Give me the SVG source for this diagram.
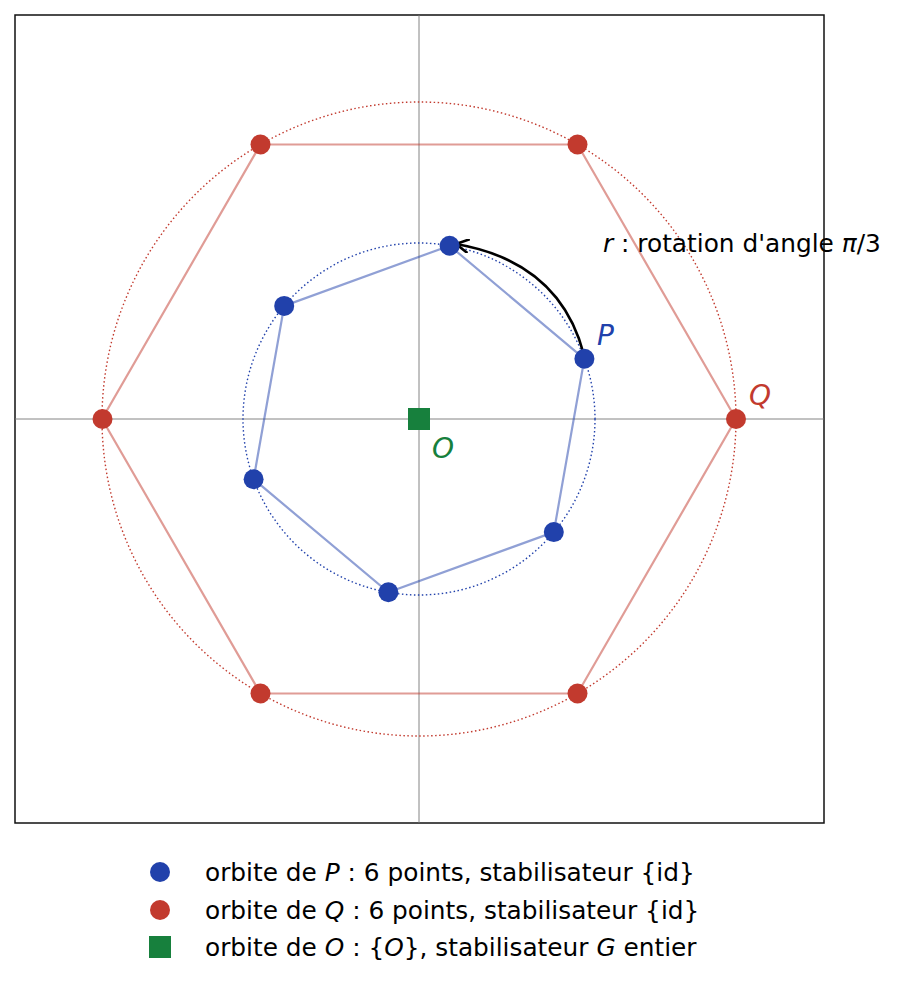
<svg xmlns="http://www.w3.org/2000/svg" width="898" height="987" viewBox="0 0 898 987">
<style>
text{font-family:"DejaVu Sans",sans-serif;font-size:24.8px;fill:#000}
.lab{font-size:28px;font-style:italic}
.bp{fill:#2141ab}.rp{fill:#c23a2e}
</style>
<defs><marker id="ah" viewBox="0 0 12 12" refX="11" refY="6" markerWidth="14" markerHeight="14" orient="auto" markerUnits="userSpaceOnUse"><path d="M0,0 L11,6 L0,12" fill="none" stroke="#000" stroke-width="2.2"/></marker></defs>
<rect x="0" y="0" width="898" height="987" fill="#fff"/>
<g id="axes">
<rect x="15" y="15" width="809" height="808" fill="none" stroke="#111" stroke-width="1.5"/>
<line x1="419" y1="15" x2="419" y2="823" stroke="#777" stroke-width="0.9"/>
<line x1="15" y1="419" x2="824" y2="419" stroke="#777" stroke-width="0.9"/>
<circle cx="419" cy="419" r="317" fill="none" stroke="#c23a2e" stroke-width="1.4" stroke-dasharray="1.5,2.5"/>
<circle cx="419" cy="419" r="176" fill="none" stroke="#2141ab" stroke-width="1.4" stroke-dasharray="1.5,2.5"/>
</g>
<g id="connectors">
<polygon points="736,419 577.5,144.5 260.5,144.5 102,419 260.5,693.5 577.5,693.5" fill="none" stroke="#c23a2e" stroke-opacity="0.5" stroke-width="2.2"/>
<polygon points="584.4,358.8 449.6,245.7 284.2,305.9 253.6,479.2 388.4,592.3 553.8,532.1" fill="none" stroke="#2141ab" stroke-opacity="0.5" stroke-width="2.2"/>
<path d="M584,355 Q560,262 456,244" fill="none" stroke="#000" stroke-width="2.6" marker-end="url(#ah)"/>
</g>
<g id="Q-orbit" class="rp">
<circle cx="736" cy="419" r="10"/><circle cx="577.5" cy="144.5" r="10"/><circle cx="260.5" cy="144.5" r="10"/>
<circle cx="102.5" cy="419" r="10"/><circle cx="260.5" cy="693.5" r="10"/><circle cx="577.5" cy="693.5" r="10"/>
</g>
<g id="P-orbit" class="bp">
<circle cx="584.4" cy="358.8" r="10"/><circle cx="449.6" cy="245.7" r="10"/><circle cx="284.2" cy="305.9" r="10"/>
<circle cx="253.6" cy="479.2" r="10"/><circle cx="388.4" cy="592.3" r="10"/><circle cx="553.8" cy="532.1" r="10"/>
</g>
<g id="O"><rect x="408" y="408" width="22" height="22" fill="#17803d"/></g>
<g id="labels">
<text class="lab" x="597" y="345" style="fill:#2141ab">P</text>
<text class="lab" x="749" y="405" style="fill:#c23a2e">Q</text>
<text class="lab" x="432" y="458" style="fill:#17803d">O</text>
<text x="603" y="252"><tspan font-style="italic">r</tspan> : rotation d'angle <tspan font-style="italic">π</tspan>/3</text>
</g>
<g id="legend">
<circle cx="160" cy="872" r="10" class="bp"/>
<circle cx="160" cy="910" r="10" class="rp"/>
<rect x="149" y="936" width="22" height="22" fill="#17803d"/>
<text x="205" y="881">orbite de <tspan font-style="italic">P</tspan> : 6 points, stabilisateur {id}</text>
<text x="205" y="919">orbite de <tspan font-style="italic">Q</tspan> : 6 points, stabilisateur {id}</text>
<text x="205" y="956">orbite de <tspan font-style="italic">O</tspan> : {<tspan font-style="italic">O</tspan>}, stabilisateur <tspan font-style="italic">G</tspan> entier</text>
</g>
</svg>
